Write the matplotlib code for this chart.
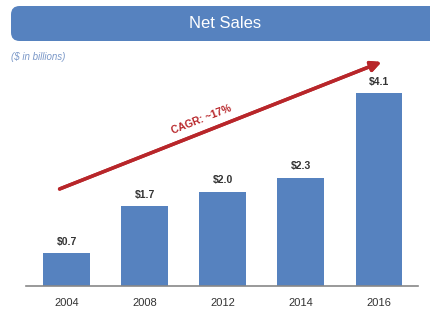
import matplotlib
matplotlib.use("Agg")
import matplotlib.pyplot as plt
from matplotlib.patches import FancyBboxPatch

# data
years = ["2004", "2008", "2012", "2014", "2016"]
sales = [0.7, 1.7, 2.0, 2.3, 4.1]
value_labels = ["$0.7", "$1.7", "$2.0", "$2.3", "$4.1"]

plt.rcParams["font.family"] = ["Liberation Sans", "DejaVu Sans"]

W, H = 430, 309
fig = plt.figure(figsize=(W / 100, H / 100), dpi=100)

def fx(px):
    return px / W

def fy(py):
    return 1 - py / H

# title banner
banner = FancyBboxPatch((fx(11), fy(41)), fx(440 - 11), fy(6) - fy(41),
                        boxstyle="round,pad=0,rounding_size=0.02",
                        transform=fig.transFigure, facecolor="#5682bf",
                        edgecolor="none", mutation_aspect=W / H)
fig.patches.append(banner)
fig.text(fx(225), fy(24), "Net Sales", color="white", fontsize=12,
         ha="center", va="center")
fig.text(fx(11), fy(57), "($ in billions)", color="#7b98c8", fontsize=7,
         style="italic", ha="left", va="center")

# bars
ax = fig.add_axes([fx(26), fy(286), fx(418) - fx(26), fy(62) - fy(286)])
x = range(len(years))
ax.bar(x, sales, width=0.6, color="#5682bf")
ax.set_xlim(-0.52, 4.5)
ax.set_ylim(0, 224 / 47)
for i, v in enumerate(sales):
    ax.text(i, v + 0.14, value_labels[i], ha="center", va="bottom",
            fontsize=7.5, fontweight="bold", color="#333333")

ax.set_xticks(list(x))
ax.set_xticklabels(years, fontsize=8, color="#333333")
ax.tick_params(axis="x", length=0, pad=9)
ax.set_yticks([])
for s in ["top", "right", "left"]:
    ax.spines[s].set_visible(False)
ax.spines["bottom"].set_color("#888888")
ax.spines["bottom"].set_linewidth(1.2)

# CAGR arrow
fig.add_artist(plt.annotate("", xy=(fx(384), fy(61)), xytext=(fx(57), fy(190)),
                            xycoords="figure fraction", textcoords="figure fraction",
                            arrowprops=dict(arrowstyle="-|>,head_length=0.6,head_width=0.3",
                                            color="#b8262a", lw=2.5)))
fig.text(fx(201), fy(120), "CAGR: ~17%", color="#b8262a", fontsize=7.5,
         fontweight="bold", rotation=21.5, ha="center", va="center",
         rotation_mode="anchor")

fig.savefig("out.png", dpi=100)
